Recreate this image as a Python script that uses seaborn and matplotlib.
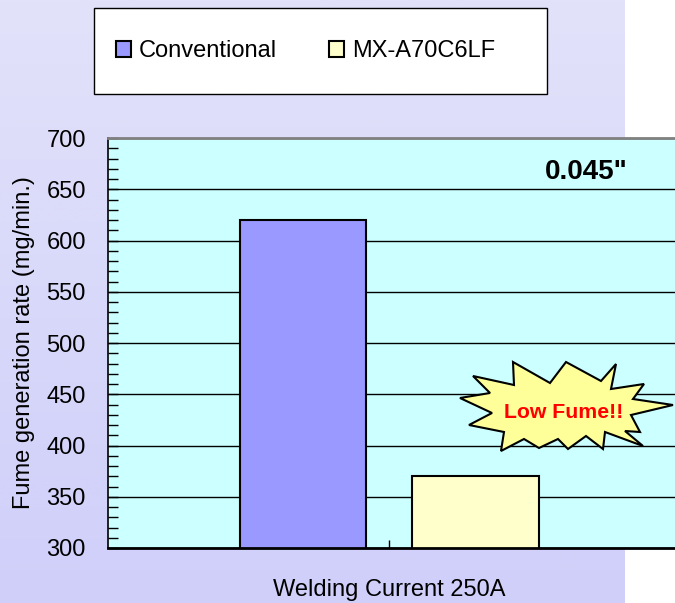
import numpy as np
import pandas as pd
import seaborn as sns
import matplotlib.pyplot as plt
from matplotlib.colors import LinearSegmentedColormap
from matplotlib.patches import Rectangle, Polygon
from matplotlib.ticker import MultipleLocator

# chart data
categories = ["Welding Current 250A"]
products = ["Conventional", "MX-A70C6LF"]
fume_rates = [620, 370]
bar_colors = ["#9999FF", "#FFFFCC"]
y_ticks = [300, 350, 400, 450, 500, 550, 600, 650, 700]

W, H = 675, 603

df = pd.DataFrame({
    "current": categories * len(products),
    "product": products,
    "rate": fume_rates,
})


def px_box(x0, y0, x1, y1):
    # pixel box (top-left origin) -> figure fraction rect
    return [x0 / W, 1 - y1 / H, (x1 - x0) / W, (y1 - y0) / H]


sns.set_theme(style="white")
plt.rcParams["font.family"] = ["Liberation Sans", "DejaVu Sans"]
plt.rcParams.update({"text.color": "black", "axes.labelcolor": "black",
                     "xtick.color": "black", "ytick.color": "black"})

fig = plt.figure(figsize=(W / 100, H / 100), dpi=100, facecolor="white")

# lavender gradient panel behind the chart
bg = fig.add_axes(px_box(0, 0, 625, H))
grad = np.linspace(0, 1, 256).reshape(-1, 1)
cmap = LinearSegmentedColormap.from_list("bg", ["#E2E2FA", "#CFCFFA"])
bg.imshow(grad, aspect="auto", cmap=cmap, extent=(0, 1, 0, 1))
bg.axis("off")

ax = fig.add_axes(px_box(108, 138, 675, 548))
ax.set_facecolor("#CCFFFF")
sns.barplot(data=df, x="current", y="rate", hue="product", palette=bar_colors,
            saturation=1, width=0.8, gap=0.267, edgecolor="black",
            linewidth=1.5, legend=False, ax=ax)

ax.set_ylim(300, 700)
ax.set_xlim(-0.652, 0.663)
ax.set_yticks(y_ticks)
ax.yaxis.set_minor_locator(MultipleLocator(10))
ax.tick_params(axis="y", which="both", direction="in", length=7, width=1,
               color="black", labelcolor="black", left=True, labelsize=17,
               pad=16)
ax.tick_params(axis="x", direction="in", length=6, width=1, color="black",
               labelcolor="black", bottom=True, labelsize=17, pad=22)
ax.yaxis.grid(True, color="black", linewidth=1)
ax.set_axisbelow(True)

ax.spines["right"].set_visible(False)
ax.spines["top"].set_color("#808080")
ax.spines["top"].set_linewidth(2)
ax.spines["left"].set_color("black")
ax.spines["left"].set_linewidth(1.2)
ax.spines["bottom"].set_color("black")
ax.spines["bottom"].set_linewidth(2)

ax.set_xlabel("")
ax.set_ylabel("Fume generation rate (mg/min.)", fontsize=17, labelpad=8,
              color="black")

# legend box
fig.add_artist(Rectangle((94 / W, 1 - 94 / H), (547 - 94) / W, (94 - 8) / H,
                         transform=fig.transFigure, facecolor="white",
                         edgecolor="black", linewidth=1, zorder=1))
handles = [Rectangle((0, 0), 1, 1, facecolor=c, edgecolor="black", linewidth=1.5)
           for c in bar_colors]
leg = fig.legend(handles, products, loc="center left",
                 bbox_to_anchor=(116 / W, 1 - 51 / H), ncol=2, frameon=False,
                 fontsize=17, borderpad=0, borderaxespad=0, handlelength=0.64,
                 handleheight=0.64, handletextpad=0.34, columnspacing=2.2)
for t in leg.get_texts():
    t.set_color("black")

fig.text(545 / W, 1 - 179 / H, '0.045"', fontsize=20, fontweight="bold",
         color="black", ha="left", va="baseline")

# "Low Fume!!" burst callout
burst = [(513, 362), (550, 383), (566, 362), (601, 381), (616, 364), (611, 389),
         (644, 384), (633, 399), (673, 405), (631, 415), (640, 432), (625, 431),
         (643, 446), (605, 432), (603, 449), (586, 436), (568, 449), (558, 439),
         (539, 448), (524, 439), (501, 451), (504, 432), (469, 425), (492, 413),
         (460, 398), (490, 393), (473, 376), (514, 385)]
burst_xy = [(x / W, 1 - y / H) for x, y in burst]
fig.add_artist(Polygon(burst_xy, closed=True, transform=fig.transFigure,
                       facecolor="#FFFF99", edgecolor="black", linewidth=1.5,
                       zorder=3))
fig.text(563.5 / W, 1 - 418 / H, "Low Fume!!", fontsize=15.3, fontweight="bold",
         color="red", ha="center", va="baseline", zorder=4)

fig.savefig("out.png", dpi=100)
